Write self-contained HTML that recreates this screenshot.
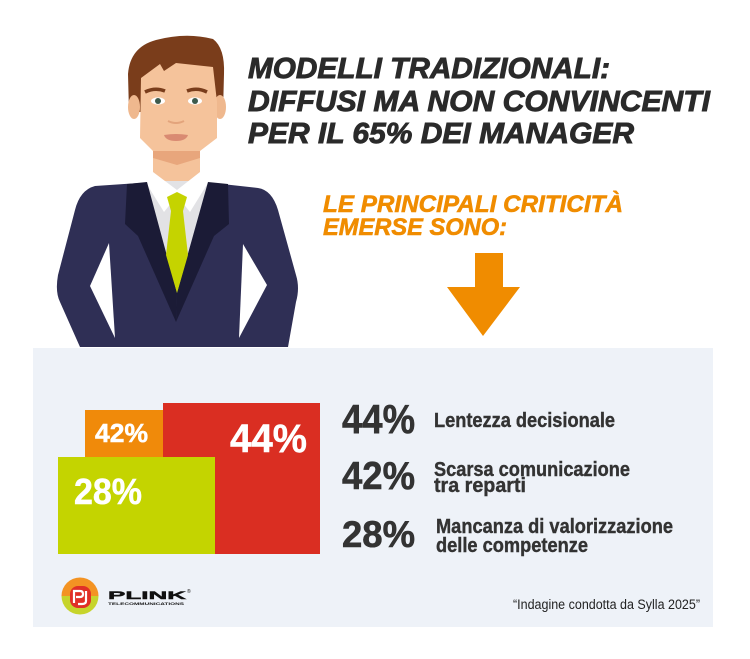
<!DOCTYPE html>
<html><head><meta charset="utf-8"><style>
html,body{margin:0;padding:0;background:#fff;}
svg{display:block;}
</style></head><body>
<svg width="750" height="659" viewBox="0 0 750 659" xmlns="http://www.w3.org/2000/svg">
<rect width="750" height="659" fill="#ffffff"/>
<!-- panel -->
<rect x="33" y="348" width="680" height="279" fill="#eef2f8"/>

<!-- man: hair -->
<path d="M129,112 L128,74 Q130,47 156,40 Q186,32 213,39 Q225,48 224,74 L223,112 Z" fill="#7a3d1b"/>
<!-- ears -->
<ellipse cx="134" cy="107" rx="6" ry="12" fill="#efb88e"/>
<ellipse cx="220" cy="107" rx="6" ry="12" fill="#efb88e"/>
<!-- neck -->
<rect x="153" y="140" width="47" height="50" fill="#f5c39b"/>
<path d="M153,148 L200,148 L200,158 L177,165 L153,158 Z" fill="#e8a67c"/>
<!-- face -->
<path d="M141,78 L160,64 L164,71 L176,63 L213,67 L217,102 L217,138 L200,151 L153,151 L140,138 Z" fill="#f5c39b"/>
<!-- brows -->
<path d="M145,92 Q155,87 165,91" stroke="#7a3d1b" stroke-width="3.5" fill="none"/>
<path d="M187,91 Q197,87 207,92" stroke="#7a3d1b" stroke-width="3.5" fill="none"/>
<!-- eyes -->
<ellipse cx="158" cy="101" rx="7" ry="3.6" fill="#ffffff"/>
<circle cx="158" cy="101" r="3" fill="#3d5a4c"/>
<ellipse cx="195" cy="101" rx="7" ry="3.6" fill="#ffffff"/>
<circle cx="195" cy="101" r="3" fill="#3d5a4c"/>
<!-- nose -->
<path d="M168,121 Q176,125 184,121" stroke="#e3a47c" stroke-width="2" fill="none"/>
<!-- mouth -->
<path d="M164,135 Q176,133 188,135 Q186,141 176,141 Q166,141 164,135 Z" fill="#d98a72"/>

<!-- suit -->
<path d="M140,183 L95,186 Q80,190 75,210 L58,275 Q55,292 60,302 L80,347 L288,347 L296,302 Q300,288 296,275 L278,210 Q272,190 258,188 L213,183 Z" fill="#2f2f55"/>
<polygon points="109,243 90,286 115,338" fill="#ffffff"/>
<polygon points="243,244 267,285 239,338" fill="#ffffff"/>
<!-- shirt -->
<polygon points="145,181 209,181 177,293" fill="#e2e2e5"/>
<polygon points="143,178 153,172 177,190 200,172 211,178 190,212 177,196 164,212" fill="#ffffff"/>
<!-- lapels -->
<polygon points="127,184 147,182 177,293 176,322 138,236 125,224" fill="#1b1b36"/>
<polygon points="228,184 208,182 177,293 176,322 214,236 229,224" fill="#1b1b36"/>
<!-- tie -->
<polygon points="167,197 177,192 187,197 183,211 171,211" fill="#c5d300"/>
<polygon points="171,211 183,211 188,255 177,293 166,255" fill="#c5d300"/>

<!-- title -->
<g font-family="Liberation Sans, sans-serif" font-weight="bold" font-style="italic" fill="#2a2a2a" stroke="#2a2a2a" stroke-width="0.9" font-size="29">
<text x="248" y="78" textLength="362" lengthAdjust="spacingAndGlyphs">MODELLI TRADIZIONALI:</text>
<text x="248" y="111" textLength="462" lengthAdjust="spacingAndGlyphs">DIFFUSI MA NON CONVINCENTI</text>
<text x="248" y="143" textLength="386" lengthAdjust="spacingAndGlyphs">PER IL 65% DEI MANAGER</text>
</g>
<g font-family="Liberation Sans, sans-serif" font-weight="bold" font-style="italic" fill="#f08c00" stroke="#f08c00" stroke-width="0.6" font-size="24">
<text x="323" y="212" textLength="300" lengthAdjust="spacingAndGlyphs">LE PRINCIPALI CRITICITÀ</text>
<text x="323" y="235" textLength="184" lengthAdjust="spacingAndGlyphs">EMERSE SONO:</text>
</g>
<!-- arrow -->
<polygon points="475,253 503,253 503,287 520,287 483,336 447,287 475,287" fill="#f08c00"/>

<!-- bars -->
<rect x="85" y="410" width="79" height="48" fill="#f08a0a"/>
<rect x="163" y="403" width="157" height="151" fill="#da2e22"/>
<rect x="58" y="457" width="157" height="97" fill="#c4d400"/>
<g font-family="Liberation Sans, sans-serif" font-weight="bold" fill="#ffffff" stroke="#ffffff" stroke-width="0.5">
<text x="95" y="442" font-size="26" textLength="53" lengthAdjust="spacingAndGlyphs">42%</text>
<text x="230" y="452" font-size="40" textLength="77" lengthAdjust="spacingAndGlyphs">44%</text>
<text x="74" y="504" font-size="36" textLength="68" lengthAdjust="spacingAndGlyphs">28%</text>
</g>

<!-- list -->
<g font-family="Liberation Sans, sans-serif" font-weight="bold" fill="#333333" stroke="#333333" stroke-width="0.6">
<text x="342" y="433" font-size="41" textLength="73" lengthAdjust="spacingAndGlyphs">44%</text>
<text x="342" y="489" font-size="39" textLength="73" lengthAdjust="spacingAndGlyphs">42%</text>
<text x="342" y="547" font-size="37" textLength="73" lengthAdjust="spacingAndGlyphs">28%</text>
</g>
<g font-family="Liberation Sans, sans-serif" font-weight="bold" fill="#333333" stroke="#333333" stroke-width="0.4" font-size="20">
<text x="434" y="427" textLength="181" lengthAdjust="spacingAndGlyphs">Lentezza decisionale</text>
<text x="434" y="476" textLength="196" lengthAdjust="spacingAndGlyphs">Scarsa comunicazione</text>
<text x="434" y="492" textLength="92" lengthAdjust="spacingAndGlyphs">tra reparti</text>
<text x="436" y="533" textLength="237" lengthAdjust="spacingAndGlyphs">Mancanza di valorizzazione</text>
<text x="436" y="552" textLength="152" lengthAdjust="spacingAndGlyphs">delle competenze</text>
</g>
<text x="513" y="609" font-family="Liberation Sans, sans-serif" font-size="13.5" fill="#222222" textLength="187" lengthAdjust="spacingAndGlyphs">“Indagine condotta da Sylla 2025”</text>

<!-- logo -->
<path d="M61.5,596 A18.5,18.5 0 0 1 98.5,596 Z" fill="#f39323"/>
<path d="M61.5,596 A18.5,18.5 0 0 0 98.5,596 Z" fill="#c6d42c"/>
<rect x="70" y="586" width="21" height="22" rx="8" fill="#e03027"/>
<path d="M74,603 L74,591 L80,591 Q83,591 83,594 Q83,597 80,597 L76,597" stroke="#fff" stroke-width="2.2" fill="none"/>
<path d="M86,591 L86,601 Q86,604 82,604 L78,604" stroke="#fff" stroke-width="2.2" fill="none"/>
<text x="108" y="599" font-family="Liberation Sans, sans-serif" font-weight="bold" font-size="11" fill="#111" stroke="#111" stroke-width="0.4" textLength="78" lengthAdjust="spacingAndGlyphs">PLINK</text>
<text x="187" y="593" font-family="Liberation Sans, sans-serif" font-size="5" fill="#111">®</text>
<text x="108" y="605" font-family="Liberation Sans, sans-serif" font-weight="bold" font-size="3.5" fill="#111" textLength="76" lengthAdjust="spacingAndGlyphs">TELECOMMUNICATIONS</text>
</svg>
</body></html>
